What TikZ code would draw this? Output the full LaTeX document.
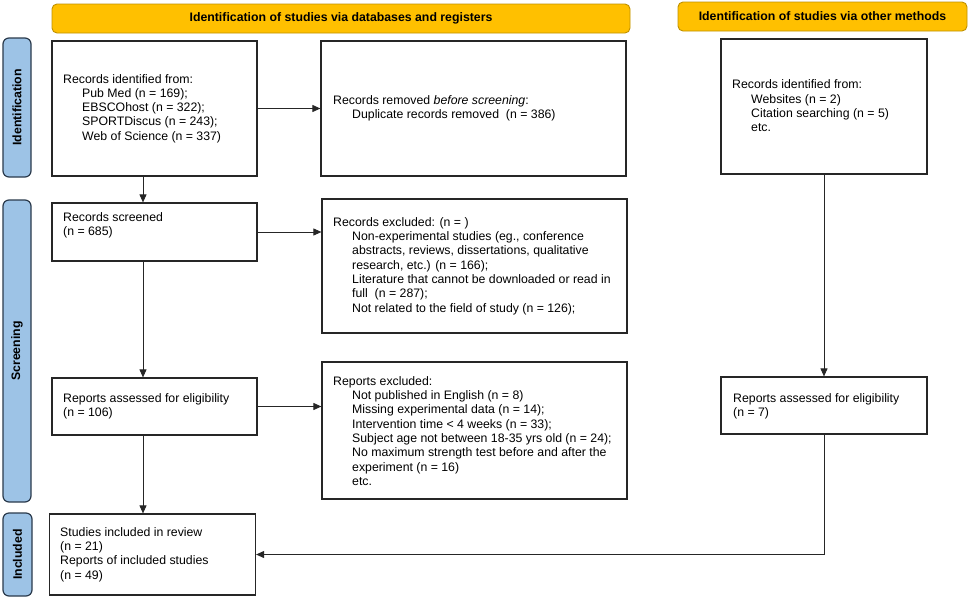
\documentclass[tikz,border=0pt]{standalone}
\usepackage{fontspec}
\setmainfont{Liberation Sans}
\usetikzlibrary{arrows.meta,calc}
\definecolor{hdrfill}{HTML}{FFC000}
\definecolor{hdrdraw}{HTML}{BF9000}
\definecolor{sidefill}{HTML}{9DC3E6}
\definecolor{sidedraw}{HTML}{2A3A4C}
\definecolor{boxdraw}{HTML}{262626}
\begin{document}
\begin{tikzpicture}[x=1pt,y=-1pt,
  every node/.style={font=\fontsize{12.3}{14.3}\selectfont},
  hdr/.style={draw=hdrdraw,fill=hdrfill,rounded corners=5pt,line width=0.9pt},
  side/.style={draw=sidedraw,fill=sidefill,rounded corners=6pt,line width=1.2pt},
  boxr/.style={draw=boxdraw,line width=1.2pt},
  txt/.style={anchor=west,align=left,inner sep=0pt},
  conn/.style={draw=boxdraw,line width=0.9pt,-{Triangle[length=8pt,width=7pt]}},
  plain/.style={draw=boxdraw,line width=0.9pt}]
\useasboundingbox (0,0) rectangle (969,598);
\newcommand{\ind}{\hspace*{19pt}}
% headers
\draw[hdr] (52,4) rectangle (630,33);
\node[font=\fontsize{12.3}{14.3}\selectfont\bfseries] (h1) at (341,18.5) {Identification of studies via databases and registers};
\draw[hdr] (678,2) rectangle (967,31);
\node[font=\fontsize{12.3}{14.3}\selectfont\bfseries] (h2) at (822.5,16.5) {Identification of studies via other methods};
% side labels
\draw[side] (3,38) rectangle (31,177);
\node[rotate=90,font=\fontsize{12.3}{14.3}\selectfont\bfseries] (s1) at (17,107.5) {Identification};
\draw[side] (3,200) rectangle (31,502);
\node[rotate=90,font=\fontsize{12.3}{14.3}\selectfont\bfseries] (s2) at (17,351) {Screening};
\draw[side] (3,513) rectangle (32,596);
\node[rotate=90,font=\fontsize{12.3}{14.3}\selectfont\bfseries] (s3) at (17.5,554.5) {Included};
% boxes
\node[boxr,minimum width=205pt,minimum height=135pt,inner sep=0pt] (A) at (154.5,108.5) {};
\node[boxr,minimum width=305pt,minimum height=135pt,inner sep=0pt] (B) at (473.5,108.5) {};
\node[boxr,minimum width=206pt,minimum height=135pt,inner sep=0pt] (C) at (824,106.5) {};
\node[boxr,minimum width=205pt,minimum height=58pt,inner sep=0pt] (D) at (154.5,232) {};
\node[boxr,minimum width=305pt,minimum height=134pt,inner sep=0pt] (E) at (474.5,266) {};
\node[boxr,minimum width=205pt,minimum height=57pt,inner sep=0pt] (F) at (154.5,406.5) {};
\node[boxr,minimum width=305pt,minimum height=137pt,inner sep=0pt] (G) at (474.5,430.5) {};
\node[boxr,minimum width=206pt,minimum height=57pt,inner sep=0pt] (H) at (824,405.5) {};
\node[boxr,minimum width=206pt,minimum height=81pt,inner sep=0pt] (I) at (152.5,554.5) {};
% texts
\node[txt] (tA) at (63,108.5) {Records identified from:\\ \ind Pub Med (n = 169);\\ \ind EBSCOhost (n = 322);\\ \ind SPORTDiscus (n = 243);\\ \ind Web of Science (n = 337)};
\node[txt] (tB) at (333,108.5) {Records removed \textit{before screening}:\\ \ind Duplicate records removed\ \ (n = 386)};
\node[txt] (tC) at (732,106) {Records identified from:\\ \ind Websites (n = 2)\\ \ind Citation searching (n = 5)\\ \ind etc.};
\node[txt] (tD) at (63,225) {Records screened\\(n = 685)};
\node[txt] (tE) at (333,266) {Records excluded: (n = )\\ \ind Non-experimental studies (eg., conference\\ \ind abstracts, reviews, dissertations, qualitative\\ \ind research, etc.) (n = 166);\\ \ind Literature that cannot be downloaded or read in\\ \ind full\ \ (n = 287);\\ \ind Not related to the field of study (n = 126);};
\node[txt] (tF) at (63,406.5) {Reports assessed for eligibility\\(n = 106)};
\node[txt] (tG) at (333,431) {Reports excluded:\\ \ind Not published in English (n = 8)\\ \ind Missing experimental data (n = 14);\\ \ind Intervention time < 4 weeks (n = 33);\\ \ind Subject age not between 18-35 yrs old (n = 24);\\ \ind No maximum strength test before and after the\\ \ind experiment (n = 16)\\ \ind etc.};
\node[txt] (tH) at (733,406) {Reports assessed for eligibility\\(n = 7)};
\node[txt] (tI) at (60,554.5) {Studies included in review\\(n = 21)\\Reports of included studies\\(n = 49)};
% connectors
\draw[conn] (A.east) -- (B.west);
\draw[conn] ([xshift=-11.5pt]A.south) -- ([xshift=-11.5pt]D.north);
\draw[conn] (D.east) -- (D.east -| E.west);
\draw[conn] ([xshift=-11.5pt]D.south) -- ([xshift=-11.5pt]F.north);
\draw[conn] (F.east) -- (F.east -| G.west);
\draw[conn] ([xshift=-11.5pt]F.south) -- ([xshift=-9.5pt]I.north);
\draw[conn] (C.south) -- (H.north);
\draw[conn] (H.south) |- (I.east);
\end{tikzpicture}
\end{document}
